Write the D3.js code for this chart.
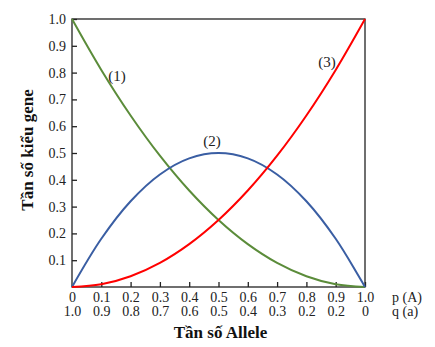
<!DOCTYPE html>
<html><head><meta charset="utf-8">
<script src="https://cdn.jsdelivr.net/npm/d3@7"></script>
<style>body{margin:0;background:#fff}svg{display:block}text{font-family:"Liberation Serif","DejaVu Serif",serif}</style>
</head><body>
<svg id="c" width="435" height="347"></svg>
<script>
const pValues = [0, 0.1, 0.2, 0.3, 0.4, 0.5, 0.6, 0.7, 0.8, 0.9, 1.0];
const pLabels = ["0","0.1","0.2","0.3","0.4","0.5","0.6","0.7","0.8","0.9","1.0"];
const qLabels = ["1.0","0.9","0.8","0.7","0.6","0.5","0.4","0.3","0.2","0.2","0"];
const yTicks = [0.1,0.2,0.3,0.4,0.5,0.6,0.7,0.8,0.9,1.0];
const series1 = [1.0, 0.81, 0.64, 0.49, 0.36, 0.25, 0.16, 0.09, 0.04, 0.01, 0.0];
const series2 = [0.0, 0.18, 0.32, 0.42, 0.48, 0.50, 0.48, 0.42, 0.32, 0.18, 0.0];
const series3 = [0.0, 0.01, 0.04, 0.09, 0.16, 0.25, 0.36, 0.49, 0.64, 0.81, 1.0];
const seriesNames = ["(1)","(2)","(3)"];
const colors = ["#5b8c3a","#3a5ea3","#ff0000"];

const svg = d3.select("#c");
const L=72, R=365, T=19, B=287;
const FS = 14;
const x = d3.scaleLinear().domain([0,1]).range([L,R]);
const y = d3.scaleLinear().domain([0,1]).range([B,T]);

svg.append("rect").attr("x",L).attr("y",T).attr("width",R-L).attr("height",B-T)
  .attr("fill","none").attr("stroke","#222").attr("stroke-width",1.3);

const ya = svg.append("g").attr("transform",`translate(${L},0)`)
  .call(d3.axisLeft(y).tickValues(yTicks).tickFormat(d3.format(".1f")).tickSizeInner(-5).tickSizeOuter(0).tickPadding(6));
ya.select(".domain").remove();
ya.attr("font-size",FS).attr("font-family",null);
ya.selectAll("line").attr("stroke","#222").attr("stroke-width",1.3);
ya.selectAll("text").attr("fill","#222");

const xa = svg.append("g").attr("transform",`translate(0,${B})`)
  .call(d3.axisBottom(x).tickValues(pValues).tickFormat((d,i)=>pLabels[i]).tickSizeInner(-5).tickSizeOuter(0).tickPadding(5.5));
xa.select(".domain").remove();
xa.attr("font-size",FS).attr("font-family",null);
xa.selectAll("line").attr("stroke","#222").attr("stroke-width",1.3).filter(d=>d===0).remove();
xa.selectAll("text").attr("fill","#222");
xa.selectAll(".tick").append("text").attr("y",19.5).attr("dy","0.71em").attr("fill","#222")
  .attr("text-anchor","middle").text((d,i)=>qLabels[i]);

svg.append("text").attr("x",392).attr("y",302).attr("font-size",FS).attr("fill","#222").text("p (A)");
svg.append("text").attr("x",392).attr("y",316).attr("font-size",FS).attr("fill","#222").text("q (a)");

svg.append("text").attr("x",(L+R)/2+2).attr("y",338).attr("text-anchor","middle")
  .attr("font-size",17).attr("font-weight","bold").attr("fill","#111").text("Tần số Allele");
svg.append("text").attr("transform",`translate(33,150) rotate(-90)`).attr("text-anchor","middle")
  .attr("font-size",17).attr("font-weight","bold").attr("fill","#111").text("Tần số kiểu gene");

const line = d3.line().x((d,i)=>x(pValues[i])).y(d=>y(d)).curve(d3.curveCatmullRom.alpha(0.5));
[series1, series2, series3].forEach((s,k)=>{
  svg.append("path").datum(s).attr("d",line).attr("fill","none").attr("stroke",colors[k]).attr("stroke-width",2);
});

const labelPos = [[117,76],[212,141],[327,62]];
seriesNames.forEach((n,k)=>{
  svg.append("text").attr("x",labelPos[k][0]).attr("y",labelPos[k][1]).attr("dy","0.35em")
    .attr("text-anchor","middle").attr("font-size",15).attr("fill","#222").text(n);
});
</script>
</body></html>
